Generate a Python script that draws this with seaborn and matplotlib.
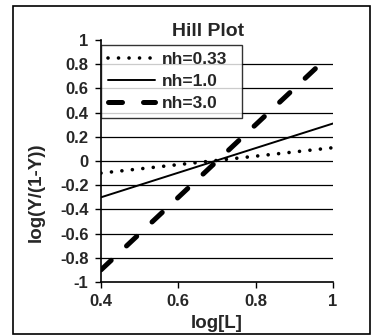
import numpy as np
import pandas as pd
import seaborn as sns
import matplotlib.pyplot as plt
from matplotlib.patches import Rectangle

# values (line end points)
x_dot = [0.4, 1.0]
y_dot = [-0.10, 0.11]
x_solid = [0.4, 1.0]
y_solid = [-0.30, 0.31]
x_dash = [0.4, 0.98]
y_dash = [-0.90, 0.84]
labels = ["nh=0.33", "nh=1.0", "nh=3.0"]
x_ticks = [0.4, 0.6, 0.8, 1.0]
x_ticklabels = ["0.4", "0.6", "0.8", "1"]
y_ticks = [-1, -0.8, -0.6, -0.4, -0.2, 0, 0.2, 0.4, 0.6, 0.8, 1]
y_ticklabels = ["-1", "-0.8", "-0.6", "-0.4", "-0.2", "0", "0.2", "0.4", "0.6", "0.8", "1"]

sns.set_style("white")
plt.rcParams['font.family'] = ['Liberation Sans', 'DejaVu Sans']
plt.rcParams['font.weight'] = 'bold'

fig = plt.figure(figsize=(3.75, 3.35), dpi=100)
ax = fig.add_axes([101/375, 1 - 282/335, 232/375, 242/335])

# outer frame round the whole chart
fig.patches.append(Rectangle((13/375, 1 - 334/335), 357/375, 328/335,
                             transform=fig.transFigure, fill=False,
                             edgecolor='black', linewidth=1.2))

sns.lineplot(x=x_dot, y=y_dot, ax=ax, color='black', linewidth=2.6, label=labels[0])
ax.lines[-1].set_dashes([0.01, 2.9])
ax.lines[-1].set_dash_capstyle('round')
sns.lineplot(x=x_solid, y=y_solid, ax=ax, color='black', linewidth=1.4, label=labels[1])
sns.lineplot(x=x_dash, y=y_dash, ax=ax, color='black', linewidth=3.6, label=labels[2])
ax.lines[-1].set_dashes([2.8, 4.2])
ax.lines[-1].set_dash_capstyle('round')

ax.set_xlim(0.4, 1.0)
ax.set_ylim(-1, 1)
ax.set_xticks(x_ticks)
ax.set_xticklabels(x_ticklabels, fontsize=12, fontweight='bold')
ax.set_yticks(y_ticks)
ax.set_yticklabels(y_ticklabels, fontsize=12, fontweight='bold')
ax.tick_params(axis='both', direction='out', length=4, width=1, color='black',
               left=True, bottom=True, pad=5)

ax.yaxis.grid(True, color='black', linewidth=0.9)
grid = ax.get_ygridlines()
grid[0].set_visible(False)
grid[-1].set_visible(False)

for side in ['top', 'right']:
    ax.spines[side].set_visible(False)
for side in ['left', 'bottom']:
    ax.spines[side].set_color('black')
    ax.spines[side].set_linewidth(1.2)

ax.set_title("Hill Plot", fontsize=14, fontweight='bold', pad=3, x=0.46)
ax.set_xlabel("log[L]", fontsize=13.5, fontweight='bold')
ax.xaxis.label.set_verticalalignment('center')
ax.xaxis.set_label_coords(0.5, -(324 - 282) / 242)
ax.set_ylabel("log(Y/(1-Y))", fontsize=13.5, fontweight='bold')
ax.yaxis.label.set_verticalalignment('center')
ax.yaxis.set_label_coords((36 - 101) / 232, (282 - 192) / 242)

leg = ax.legend(loc='upper left', bbox_to_anchor=(0.0, 0.674, 0.608, 0.305),
                mode='expand', borderaxespad=0,
                frameon=True, fancybox=False, fontsize=12.5, handlelength=2.7,
                handletextpad=0.4, labelspacing=0.4, borderpad=0.4)
leg.get_frame().set_edgecolor('black')
leg.get_frame().set_linewidth(1.0)
for t in leg.get_texts():
    t.set_fontweight('bold')

fig.savefig("out.png", dpi=100)
